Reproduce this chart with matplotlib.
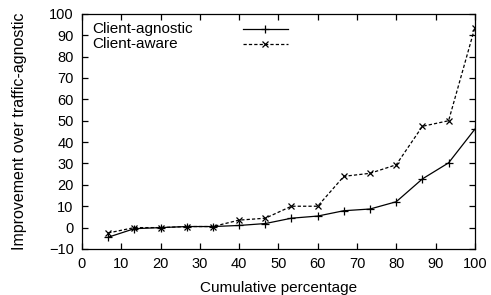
import matplotlib
matplotlib.use("Agg")
import matplotlib.pyplot as plt
from matplotlib.lines import Line2D

x_pct = [6.67, 13.33, 20, 26.67, 33.33, 40, 46.67, 53.33, 60, 66.67, 73.33, 80, 86.67, 93.33, 100]
client_agnostic = [-4.5, -0.5, 0, 0.5, 0.5, 1, 1.9, 4.4, 5.4, 7.9, 8.7, 12.1, 22.8, 30.3, 46]
client_aware = [-2.5, 0, 0, 0.5, 0.5, 3.5, 4.4, 10, 10, 24, 25.4, 29.4, 47.4, 50, 93.5]
series_labels = ['Client-agnostic', 'Client-aware']
xticks = list(range(0, 101, 10))
yticks = list(range(-10, 101, 10))

plt.rcParams['font.family'] = ['Liberation Sans', 'DejaVu Sans']
fig = plt.figure(figsize=(4.91, 2.95), dpi=100)
ax = fig.add_axes([0.167, 0.156, 0.800, 0.797])

styles = [
    dict(color='black', linestyle='-', linewidth=0.9, marker='+', markersize=6, markeredgewidth=0.9),
    dict(color='black', linestyle=(0, (2.6, 1.7)), linewidth=0.9, marker='x', markersize=5, markeredgewidth=0.9),
]
for ys, lab, st in zip([client_agnostic, client_aware], series_labels, styles):
    ax.plot(x_pct, ys, label=lab, **st)

ax.set_xlim(0, 100)
ax.set_ylim(-10, 100)
ax.set_xticks(xticks)
ax.set_yticks(yticks)
ax.tick_params(direction='in', top=True, right=True, length=4.5, width=0.9,
               labelsize=10.5)
ax.tick_params(axis='x', pad=6)
ax.tick_params(axis='y', pad=6)
for s in ax.spines.values():
    s.set_linewidth(0.9)

ax.set_xlabel('Cumulative percentage', fontsize=11, labelpad=7)
ax.set_ylabel('Improvement over traffic-agnostic', fontsize=11.5, labelpad=16)

# gnuplot-style key: text on the left, sample line to the right
row_y = [0.936, 0.872]
for yy, lab, st in zip(row_y, series_labels, styles):
    ax.text(0.025, yy, lab, transform=ax.transAxes, fontsize=11,
            ha='left', va='center')
    ax.add_line(Line2D([0.41, 0.524], [yy, yy], transform=ax.transAxes,
                       color=st['color'], linestyle=st['linestyle'],
                       linewidth=st['linewidth']))
    ax.add_line(Line2D([0.467], [yy], transform=ax.transAxes, color=st['color'],
                       linestyle='none', marker=st['marker'],
                       markersize=st['markersize'], markeredgewidth=st['markeredgewidth']))

fig.savefig('out.png', dpi=100)
